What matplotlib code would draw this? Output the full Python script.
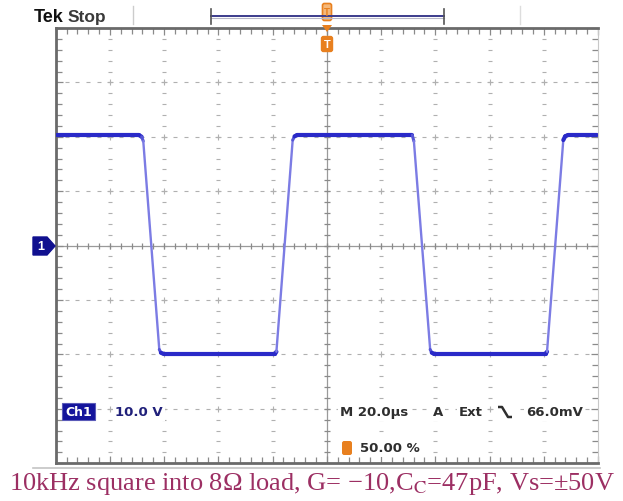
import numpy as np
import matplotlib
matplotlib.use("Agg")
import matplotlib.pyplot as plt
from matplotlib.collections import LineCollection
from matplotlib.patches import Rectangle, Polygon, FancyBboxPatch

# scope trace corners: time (us) and volts
t_us = [0.5, 30.8, 31.7, 32.3, 38.2, 38.8, 39.8,
        80.9, 81.4, 87.4, 88.1, 89.0,
        130.6, 131.5, 132.1, 138.1, 138.7, 139.7,
        180.7, 181.2, 187.2, 187.9, 188.8, 199.5]
volts = [20.3, 20.3, 20.0, 19.2, -19.1, -19.7, -19.9,
         -19.9, -19.5, 19.4, 20.1, 20.3,
         20.3, 20.3, 19.2, -19.1, -19.7, -19.9,
         -19.9, -19.5, 19.4, 20.1, 20.3, 20.3]

volts_per_div = 10.0
us_per_div = 20.0
readout_ch = "10.0 V"
readout_time = "M 20.0\u00b5s"
trig_level = "66.0mV"
trig_pos = "50.00 %"
caption = "10kHz square into 8\u03a9 load, G= \u221210,C$_\\mathrm{C}$=47pF, Vs=\u00b150V"

plt.rcParams['mathtext.fontset'] = 'stix'

W, H = 623, 502
fig = plt.figure(figsize=(W / 100, H / 100), dpi=100)
fig.patch.set_facecolor('white')

# graticule axes (pixel box 55.7..598 x 29..464)
gl, gr, gt, gb = 55.7, 598.0, 29.0, 464.2
ax = fig.add_axes([gl / W, 1 - gb / H, (gr - gl) / W, (gb - gt) / H])
ax.set_xlim(0, 10 * us_per_div)
ax.set_ylim(-4 * volts_per_div, 4 * volts_per_div)
ax.set_facecolor('white')

grid_col = '#b0b0b0'
xs_minor = np.arange(0, 10 * us_per_div + 0.01, us_per_div / 5)
ys_minor = np.arange(-4 * volts_per_div, 4 * volts_per_div + 0.01, volts_per_div / 5)
for k in range(1, 10):
    if k == 5:
        continue
    x = k * us_per_div
    ax.scatter(np.full(len(ys_minor), x), ys_minor, marker='_', s=5, color=grid_col, lw=0.8, zorder=1)
for k in range(-3, 4):
    if k == 0:
        continue
    y = k * volts_per_div
    ax.scatter(xs_minor, np.full(len(xs_minor), y), marker='_', s=8, color=grid_col, lw=0.8, zorder=1)
# crosses where major lines meet
mx, my = np.meshgrid(np.arange(1, 10) * us_per_div, np.arange(-3, 4) * volts_per_div)
ax.scatter(mx.ravel(), my.ravel(), marker='+', s=16, color=grid_col, lw=0.8, zorder=1)

# centre cross-hair with ticks
ax.axhline(0, color='#9a9a9a', lw=0.9, zorder=1)
ax.axvline(5 * us_per_div, color='#9a9a9a', lw=0.9, zorder=1)
ax.scatter(xs_minor, np.zeros(len(xs_minor)), marker='|', s=22, color='#8a8a8a', lw=0.9, zorder=1)
ax.scatter(np.full(len(ys_minor), 5 * us_per_div), ys_minor, marker='_', s=22, color='#8a8a8a', lw=0.9, zorder=1)

# border ticks
ax.set_xticks(np.arange(0, 10 * us_per_div + 1, us_per_div))
ax.set_yticks(np.arange(-4 * volts_per_div, 4 * volts_per_div + 1, volts_per_div))
ax.set_xticks(xs_minor, minor=True)
ax.set_yticks(ys_minor, minor=True)
ax.tick_params(which='both', direction='in', top=True, right=True,
               labelbottom=False, labelleft=False, color='#8a8a8a', width=0.9)
ax.tick_params(which='major', length=5)
ax.tick_params(which='minor', length=4)
for side in ['left', 'top', 'bottom']:
    ax.spines[side].set_color('#6a6a6a')
    ax.spines[side].set_linewidth(2.0)
ax.spines['right'].set_color('#c8c8c8')
ax.spines['right'].set_linewidth(0.8)

# trace: bright flat parts, dimmer fast edges
pts = np.column_stack([t_us, volts])
segs = np.stack([pts[:-1], pts[1:]], axis=1)
slope = np.abs(np.diff(volts) / np.diff(t_us))
cols = ['#2a2ac8' if s < 1.0 else ('#5555d6' if s < 4 else '#7c7ce4') for s in slope]
lws = [3.0 if s < 1.0 else (2.2 if s < 4 else 1.7) for s in slope]
ax.add_collection(LineCollection(segs, colors=cols, linewidths=lws, capstyle='round',
                                 joinstyle='round', zorder=3))

# overlay in screen pixels for the scope annotations
ov = fig.add_axes([0, 0, 1, 1], zorder=5)
ov.set_xlim(0, W)
ov.set_ylim(H, 0)
ov.axis('off')
ov.patch.set_alpha(0)

bold = dict(family='Liberation Sans', weight='bold')
rd = dict(family='DejaVu Sans', weight='bold')
ov.text(34, 22, "Tek", fontsize=13, color='#111111', va='baseline', ha='left', **bold)
ov.text(68, 22, "Stop", fontsize=12.5, color='#3a3a3a', va='baseline', ha='left', **bold)

# record view bar
ov.plot([211, 444], [17, 17], color='#3c3c8c', lw=1.4)
ov.plot([211, 444], [19, 19], color='#b8b8c8', lw=0.8)
ov.plot([211, 211], [10, 25], color='#555555', lw=1.2)
ov.plot([444, 444], [10, 25], color='#555555', lw=1.2)
ov.plot([133, 133], [7, 25], color='#cccccc', lw=1.0)
ov.plot([520, 520], [7, 25], color='#dddddd', lw=1.0)

# trigger position markers
orange = '#e8801f'
ov.add_patch(FancyBboxPatch((323, 5), 8, 16, boxstyle='round,pad=0.5,rounding_size=2',
                            fc='#f5b87a', ec=orange, lw=1.2))
ov.text(327, 13, "T", fontsize=7, color=orange, ha='center', va='center', **bold)
ov.add_patch(Polygon([[322, 26], [332, 26], [327, 33]], closed=True, fc=orange, ec='none'))
ov.add_patch(FancyBboxPatch((322, 38), 10, 14, boxstyle='round,pad=0.5,rounding_size=2',
                            fc=orange, ec=orange, lw=1.0))
ov.text(327, 45.5, "T", fontsize=8, color='white', ha='center', va='center', **bold)

# channel 1 ground marker
ov.add_patch(Polygon([[33, 238], [47, 238], [55, 247], [47, 256], [33, 256]],
                     closed=True, fc='#10108f', ec='#10108f'))
ov.text(41, 247.5, "1", fontsize=9, color='white', ha='center', va='center', **bold)

# readouts
ov.add_patch(Rectangle((62, 404), 33, 17, fc='#14149c', ec='#5a5ab8', lw=0.8))
ov.text(78.5, 413, "Ch1", fontsize=9, color='white', ha='center', va='center', **rd)
wbox = dict(fc='white', ec='none', pad=1.5)
ov.text(115, 413, readout_ch, fontsize=9.5, color='#20207a', ha='left', va='center',
        bbox=wbox, **rd)
ov.text(340, 413, readout_time, fontsize=9.5, color='#2e2e2e', ha='left', va='center',
        bbox=wbox, **rd)
ov.text(433, 413, "A", fontsize=9.5, color='#2e2e2e', ha='left', va='center', bbox=wbox, **rd)
ov.text(459, 413, "Ext", fontsize=9.5, color='#2e2e2e', ha='left', va='center', bbox=wbox, **rd)
ov.add_patch(Rectangle((496, 404), 19, 17, fc='white', ec='none'))
ov.plot([498, 502, 508, 512], [408, 408, 418, 418], color='#2e2e2e', lw=1.8,
        solid_capstyle='butt')
ov.text(526, 413, trig_level, fontsize=9.5, color='#2e2e2e', ha='left', va='center',
        bbox=wbox, **rd)
ov.add_patch(FancyBboxPatch((343, 443), 8, 12, boxstyle='round,pad=0.3,rounding_size=1.5',
                            fc=orange, ec=orange))
ov.text(360, 449, trig_pos, fontsize=9.5, color='#2e2e2e', ha='left', va='center',
        bbox=wbox, **rd)

# base line of the screen
ov.plot([33, 600], [468.5, 468.5], color='#c4c4c4', lw=1.2)

ov.text(312, 490, caption, fontsize=19, color='#9c2f63', ha='center', va='baseline',
        family='Liberation Serif')

fig.savefig("out.png", dpi=100, facecolor='white')
